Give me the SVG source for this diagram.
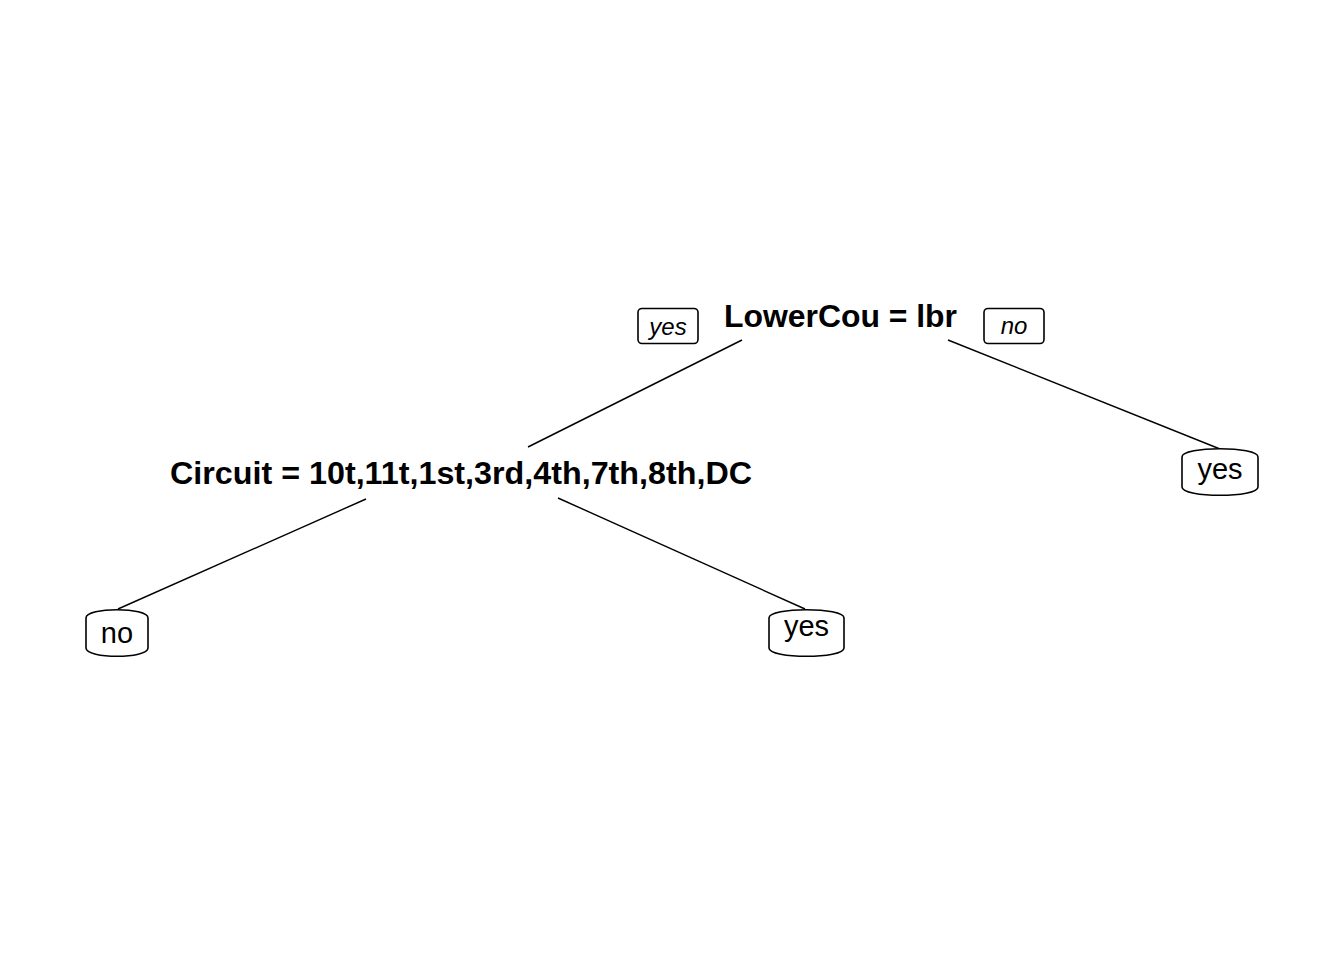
<svg xmlns="http://www.w3.org/2000/svg" width="1344" height="960" viewBox="0 0 1344 960">
<style>
.split{font-family:"Liberation Sans",Arial,sans-serif;font-weight:bold;font-size:32px;fill:#000}
.leaf{font-family:"Liberation Sans",Arial,sans-serif;font-size:29px;fill:#000}
.lab{font-family:"Liberation Sans",Arial,sans-serif;font-style:italic;font-size:24px;fill:#000}
.box{fill:#fff;stroke:#000;stroke-width:1.6}
.edge{stroke:#000;stroke-width:1.4;fill:none}
</style>
<rect width="1344" height="960" fill="#fff"/>
<g id="connectors">
<line class="edge" x1="742" y1="340" x2="528" y2="447"/>
<line class="edge" x1="948" y1="340" x2="1220" y2="449"/>
<line class="edge" x1="366" y1="499" x2="118" y2="609"/>
<line class="edge" x1="558" y1="498" x2="805" y2="609"/>
</g>
<g id="root">
<text class="split" x="724" y="327" textLength="233" lengthAdjust="spacingAndGlyphs">LowerCou = lbr</text>
<rect class="box" x="638" y="308.5" width="60" height="35" rx="4"/>
<text class="lab" x="668" y="335" text-anchor="middle">yes</text>
<rect class="box" x="984" y="308.5" width="60" height="35" rx="4"/>
<text class="lab" x="1014" y="334" text-anchor="middle">no</text>
</g>
<g id="circuit">
<text class="split" x="170" y="484" textLength="582" lengthAdjust="spacingAndGlyphs">Circuit = 10t,11t,1st,3rd,4th,7th,8th,DC</text>
</g>
<g id="leaf-right">
<path class="box" d="M1182,457 C1182,446 1258,446 1258,457 L1258,487 C1258,498 1182,498 1182,487 Z"/>
<text class="leaf" x="1220" y="479" text-anchor="middle">yes</text>
</g>
<g id="leaf-no">
<path class="box" d="M86,618 C86,607 148,607 148,618 L148,648 C148,659 86,659 86,648 Z"/>
<text class="leaf" x="117" y="643" text-anchor="middle">no</text>
</g>
<g id="leaf-yes">
<path class="box" d="M769,618 C769,607 844,607 844,618 L844,648 C844,659 769,659 769,648 Z"/>
<text class="leaf" x="806.5" y="636" text-anchor="middle">yes</text>
</g>
</svg>
